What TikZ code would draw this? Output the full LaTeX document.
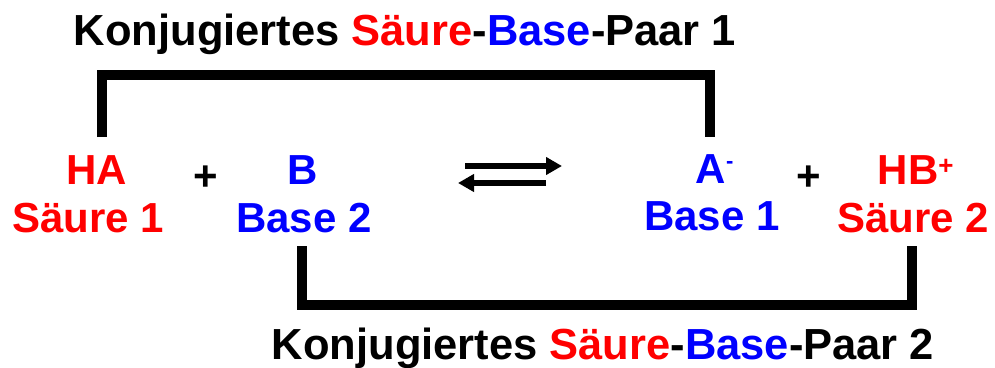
\documentclass[tikz,border=0pt]{standalone}
\usepackage{fontspec}
\setmainfont{Liberation Sans}
\usetikzlibrary{arrows.meta}
\definecolor{acidred}{RGB}{255,0,0}
\definecolor{baseblue}{RGB}{0,0,255}
\begin{document}
\begin{tikzpicture}[x=1pt,y=-1pt,
  chem/.style={font=\fontsize{42}{48}\selectfont\bfseries, inner sep=0pt, anchor=base},
  caption/.style={font=\fontsize{43.5}{50}\selectfont\bfseries, inner sep=0pt, anchor=base},
  bracket/.style={line width=10pt, line cap=butt, line join=miter},
  eqarrow/.style={line width=6pt, -{Triangle[length=16pt,width=17pt]}}]
\useasboundingbox (0,0) rectangle (995,367);

% captions of the two conjugate pairs
\node[caption] (title1) at (405,45)
  {Konjugiertes \textcolor{acidred}{Säure}-\textcolor{baseblue}{Base}-Paar 1};
\node[caption] (title2) at (603,359)
  {Konjugiertes \textcolor{acidred}{Säure}-\textcolor{baseblue}{Base}-Paar 2};

% left side of the equilibrium
\node[chem, text=acidred] (ha) at (97,184) {HA};
\node[chem, text=acidred] (s1) at (88,232) {Säure 1};
\node[chem] (p1) at (206,190) {+};
\node[chem, text=baseblue] (b) at (303,184) {B};
\node[chem, text=baseblue] (b2) at (304,232) {Base 2};

% right side of the equilibrium
\node[chem, text=baseblue] (am) at (711,183)
  {A\rlap{\raisebox{15pt}{\fontsize{22}{22}\selectfont -}}};
\node[chem, text=baseblue] (b1) at (712,230) {Base 1};
\node[chem] (p2) at (809,190) {+};
\node[chem, text=acidred] (hbp) at (908,184)
  {HB\rlap{\raisebox{10pt}{\fontsize{26}{26}\selectfont +}}};
\node[chem, text=acidred] (s2) at (913,232) {Säure 2};

% equilibrium arrows
\coordinate (fwdA) at (465,166);
\coordinate (fwdB) at (562,166);
\coordinate (revA) at (546,183);
\coordinate (revB) at (458,183);
\draw[eqarrow] (fwdA) -- (fwdB);
\draw[eqarrow] (revA) -- (revB);

% brackets joining each conjugate pair
\coordinate (pair1L) at (102,137);
\coordinate (pair1R) at (710,137);
\draw[bracket] (pair1L) -- ++(0,-62) -| (pair1R);
\coordinate (pair2L) at (302,246);
\coordinate (pair2R) at (912,246);
\draw[bracket] (pair2L) -- ++(0,59) -| (pair2R);
\end{tikzpicture}
\end{document}
